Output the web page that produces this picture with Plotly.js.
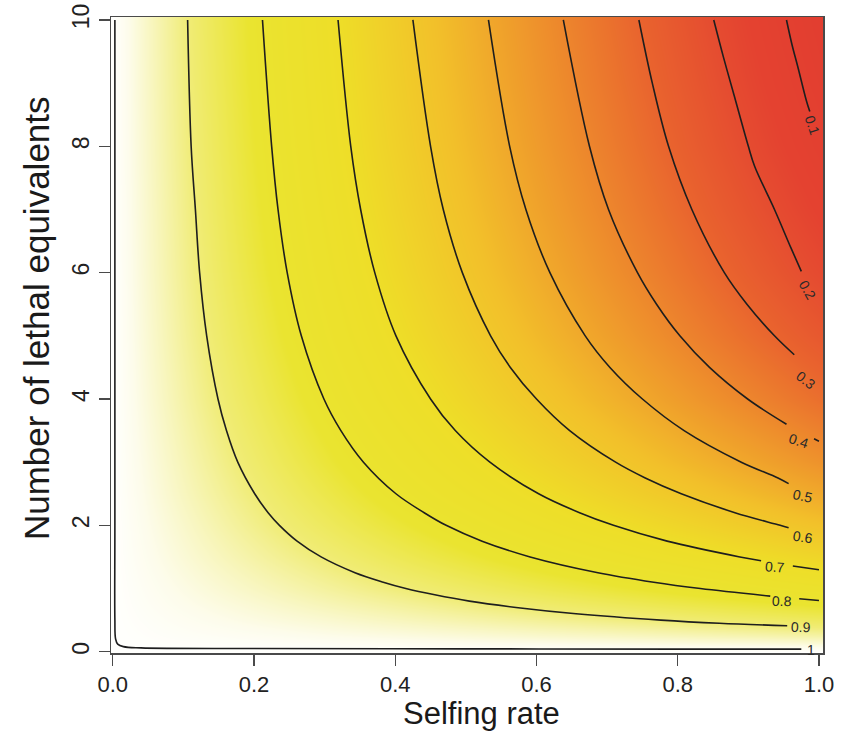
<!DOCTYPE html>
<html>
<head>
<meta charset="utf-8">
<script src="https://cdn.plot.ly/plotly-3.0.1.min.js"></script>
<style>html,body{margin:0;padding:0;background:#fff;}#chart{width:852px;height:741px;}</style>
</head>
<body>
<div id="chart"></div>
<script>
// Selfing rate (x) grid and number of lethal equivalents (y) grid for the background colour field
const selfing = [0, 0.1, 0.2, 0.3, 0.4, 0.5, 0.6, 0.7, 0.8, 0.9, 1.0];
const lethal = [0, 0.1, 0.25, 0.5, 0.75, 1, 1.5, 2, 2.5, 3, 4, 5, 6, 7, 8, 9, 10];
// Values (rows follow `lethal`, columns follow `selfing`)
const fitness = [
  [1, 1, 1, 1, 1, 1, 1, 1, 1, 1, 1],
  [1, .997, .995, .992, .989, .986, .984, .981, .978, .976, .973],
  [1, .993, .987, .980, .974, .967, .960, .954, .947, .941, .934],
  [1, .987, .974, .962, .949, .936, .923, .910, .898, .885, .872],
  [1, .981, .963, .944, .926, .907, .888, .870, .851, .833, .814],
  [1, .976, .952, .928, .904, .880, .856, .832, .808, .784, .760],
  [1, .966, .932, .899, .865, .831, .797, .763, .730, .696, .662],
  [1, .958, .915, .873, .831, .789, .746, .704, .662, .619, .577],
  [1, .950, .901, .851, .801, .751, .702, .652, .602, .553, .503],
  [1, .944, .888, .831, .775, .719, .663, .607, .550, .494, .438],
  [1, .933, .867, .800, .733, .667, .600, .533, .466, .400, .333],
  [1, .925, .851, .776, .701, .627, .552, .477, .402, .328, .253],
  [1, .919, .838, .758, .677, .596, .515, .434, .354, .273, .192],
  [1, .915, .829, .744, .658, .573, .487, .402, .316, .231, .145],
  [1, .911, .822, .732, .643, .554, .465, .376, .286, .197, .108],
  [1, .908, .816, .724, .632, .540, .448, .356, .264, .172, .080],
  [1, .906, .812, .717, .623, .529, .435, .341, .246, .152, .058]
];

// Contour lines: [selfing rate, lethal equivalents]
const c10 = [[0.003,10],[0.003,2],[0.003,0.5],[0.004,0.2],[0.007,0.12],[0.015,0.08],[0.04,0.06],[0.2,0.05],[0.5,0.045],[0.8,0.04],[0.975,0.04]];
const c09 = [[0.106,10],[0.111,8],[0.117,7],[0.123,6],[0.133,5],[0.149,4],[0.161,3.5],[0.177,3],[0.201,2.5],[0.220,2.2],[0.236,2],[0.261,1.75],[0.295,1.5],[0.343,1.25],[0.383,1.1],[0.415,1],[0.456,0.9],[0.505,0.8],[0.571,0.7],[0.656,0.6],[0.776,0.5],[0.859,0.45],[0.955,0.41]];
const c08 = [[0.212,10],[0.225,8],[0.234,7],[0.247,6],[0.267,5],[0.299,4],[0.323,3.5],[0.355,3],[0.401,2.5],[0.441,2.2],[0.472,2],[0.523,1.75],[0.591,1.5],[0.687,1.25],[0.766,1.1],[0.832,1],[0.931,0.88]];
const c08b = [[0.972,0.838],[1.0,0.811]];
const c07 = [[0.319,10],[0.337,8],[0.351,7],[0.371,6],[0.401,5],[0.450,4],[0.485,3.5],[0.534,3],[0.603,2.5],[0.661,2.2],[0.709,2],[0.785,1.75],[0.888,1.5],[0.918,1.44]];
const c07b = [[0.963,1.357],[1.0,1.297]];
const c06 = [[0.425,10],[0.450,8],[0.468,7],[0.495,6],[0.535,5],[0.563,4.5],[0.600,4],[0.647,3.5],[0.712,3],[0.754,2.75],[0.805,2.5],[0.881,2.2],[0.945,2.0],[0.957,1.96]];
const c05 = [[0.532,10],[0.562,8],[0.585,7],[0.619,6],[0.669,5],[0.704,4.5],[0.750,4],[0.809,3.5],[0.890,3],[0.942,2.75],[0.957,2.66]];
const c04 = [[0.638,10],[0.675,8],[0.702,7],[0.743,6],[0.770,5.5],[0.803,5],[0.845,4.5],[0.899,4],[0.954,3.6]];
const c04b = [[0.993,3.37],[1.0,3.332]];
const c03 = [[0.745,10],[0.764,9],[0.787,8],[0.820,7],[0.866,6],[0.898,5.5],[0.937,5],[0.965,4.7]];
const c02 = [[0.851,10],[0.865,9.4],[0.880,8.8],[0.900,8],[0.909,7.68],[0.937,7],[0.960,6.4],[0.975,6.02]];
const c01 = [[0.954,10],[0.962,9.6],[0.970,9.26],[0.982,8.73],[0.987,8.55]];

// Contour labels: text, position, angle
const labelText = ['0.1','0.2','0.3','0.4','0.5','0.6','0.7','0.8','0.9','1'];
const labelPos = [[0.990,8.33],[0.984,5.73],[0.981,4.30],[0.972,3.34],[0.977,2.47],[0.977,1.82],[0.938,1.34],[0.948,0.81],[0.974,0.39],[0.988,0.03]];
const labelAngle = [72, 60, 38, 18, 12, 8, 4, 2, 2, 0];

const xTicks = [0, 0.2, 0.4, 0.6, 0.8, 1.0];
const xTickText = ['0.0','0.2','0.4','0.6','0.8','1.0'];
const yTicks = [0, 2, 4, 6, 8, 10];
const yTickText = ['0','2','4','6','8','10'];
const xTitle = 'Selfing rate';
const yTitle = 'Number of lethal equivalents';

const heatScale = [
  [0.0, 'rgb(226,62,48)'],
  [0.098, 'rgb(228,66,48)'],
  [0.151, 'rgb(229,76,48)'],
  [0.257, 'rgb(233,100,46)'],
  [0.395, 'rgb(238,144,44)'],
  [0.544, 'rgb(242,192,42)'],
  [0.682, 'rgb(238,222,40)'],
  [0.809, 'rgb(234,228,48)'],
  [0.894, 'rgb(240,236,118)'],
  [0.947, 'rgb(248,246,192)'],
  [0.979, 'rgb(253,252,235)'],
  [1.0, 'rgb(255,255,253)']
];

const traces = [{
  type: 'heatmap', x: selfing, y: lethal, z: fitness,
  zsmooth: 'best', colorscale: heatScale, zmin: 0.058, zmax: 1,
  showscale: false, hoverinfo: 'skip'
}];

const lines = [c10, c09, c08, c08b, c07, c07b, c06, c05, c04, c04b, c03, c02, c01];
lines.forEach(pts => {
  traces.push({
    type: 'scatter', mode: 'lines',
    x: pts.map(p => p[0]), y: pts.map(p => p[1]),
    line: {color: '#1e1e1e', width: 1.6, shape: 'spline', smoothing: 1},
    showlegend: false, hoverinfo: 'skip'
  });
});

const FONT = 'Liberation Sans, Arial, Helvetica, sans-serif';
const annotations = labelText.map((t, i) => ({
  x: labelPos[i][0], y: labelPos[i][1], xref: 'x', yref: 'y',
  text: t, showarrow: false, textangle: labelAngle[i],
  font: {family: FONT, size: 14, color: '#2a2a2a'}
}));
annotations.push({
  xref: 'paper', yref: 'paper', x: 0.5197, y: -0.095, xanchor: 'center', yanchor: 'middle',
  text: xTitle, showarrow: false, font: {family: FONT, size: 31, color: '#1a1a1a'}
});
annotations.push({
  xref: 'paper', yref: 'paper', x: -0.1053, y: 0.5267, xanchor: 'center', yanchor: 'middle',
  text: yTitle, showarrow: false, textangle: -90, font: {family: FONT, size: 35, color: '#1a1a1a'}
});

const layout = {
  width: 852, height: 741,
  margin: {l: 111, r: 29, t: 17, b: 88},
  paper_bgcolor: '#ffffff', plot_bgcolor: '#ffffff',
  showlegend: false,
  xaxis: {
    range: [-0.0025, 1.0057], showgrid: false, zeroline: false,
    showline: true, mirror: true, linecolor: '#4a4a4a', linewidth: 1.5,
    ticks: 'outside', ticklen: 11, tickwidth: 1.3, tickcolor: '#4a4a4a',
    tickvals: xTicks, ticktext: xTickText,
    tickfont: {family: FONT, size: 22, color: '#222'}
  },
  yaxis: {
    range: [-0.021, 10.047], showgrid: false, zeroline: false,
    showline: true, mirror: true, linecolor: '#4a4a4a', linewidth: 1.5,
    ticks: 'outside', ticklen: 11, tickwidth: 1.3, tickcolor: '#4a4a4a',
    tickvals: yTicks, ticktext: yTickText, tickangle: -90,
    tickfont: {family: FONT, size: 23, color: '#222'}
  },
  annotations: annotations
};

Plotly.newPlot('chart', traces, layout, {displayModeBar: false, staticPlot: true});
</script>
</body>
</html>
